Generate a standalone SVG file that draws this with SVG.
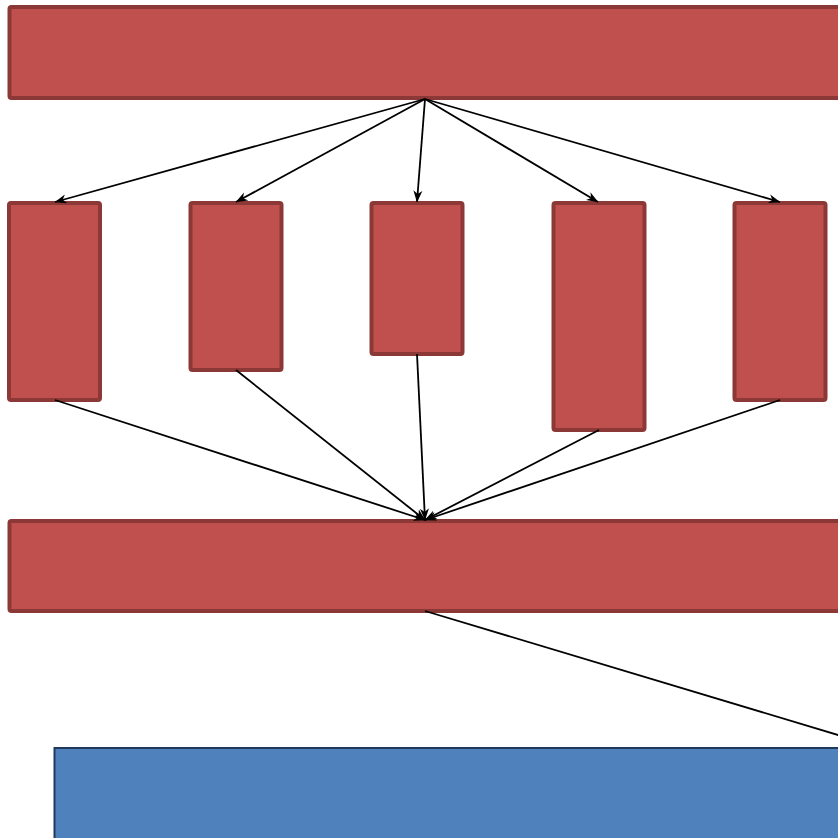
<svg xmlns="http://www.w3.org/2000/svg" width="838" height="838" viewBox="0 0 838 838">
<defs>
<style>
.r{fill:#c0504d;stroke:#8c3836;stroke-width:4;}
.b{fill:#4f81bd;stroke:#1f3a5a;stroke-width:2;}
.c{stroke:#000;stroke-width:1.8;fill:none;}
</style>
<marker id="ah" viewBox="0 0 12 10" refX="11.5" refY="5" markerWidth="12" markerHeight="10" markerUnits="userSpaceOnUse" orient="auto">
<path d="M0,0.5 L12,5 L0,9.5 L3.5,5 z" fill="#000"/>
</marker>
</defs>
<rect width="838" height="838" fill="#fff"/>
<g id="top"><rect class="r" x="9.5" y="7" width="840" height="91" rx="2"/></g>
<g id="n1"><rect class="r" x="9" y="203" width="91" height="197" rx="2"/></g>
<g id="n2"><rect class="r" x="190.5" y="203" width="91" height="167" rx="2"/></g>
<g id="n3"><rect class="r" x="371.5" y="203" width="91" height="151" rx="2"/></g>
<g id="n4"><rect class="r" x="553.5" y="203" width="91" height="227" rx="2"/></g>
<g id="n5"><rect class="r" x="734.5" y="203" width="91" height="197" rx="2"/></g>
<g id="mid"><rect class="r" x="9.5" y="521" width="840" height="90" rx="2"/></g>
<g id="bottom"><rect class="b" x="54.5" y="748" width="820" height="120"/></g>
<g id="connectors">
<line class="c" x1="425" y1="99" x2="55" y2="202" marker-end="url(#ah)"/>
<line class="c" x1="425" y1="99" x2="236" y2="202" marker-end="url(#ah)"/>
<line class="c" x1="425" y1="99" x2="417" y2="202" marker-end="url(#ah)"/>
<line class="c" x1="425" y1="99" x2="598" y2="202" marker-end="url(#ah)"/>
<line class="c" x1="425" y1="99" x2="780" y2="202" marker-end="url(#ah)"/>
<line class="c" x1="55" y1="400" x2="425" y2="520" marker-end="url(#ah)"/>
<line class="c" x1="236" y1="370" x2="425" y2="520" marker-end="url(#ah)"/>
<line class="c" x1="417" y1="354" x2="425" y2="520" marker-end="url(#ah)"/>
<line class="c" x1="599" y1="430" x2="425" y2="520" marker-end="url(#ah)"/>
<line class="c" x1="780" y1="400" x2="425" y2="520" marker-end="url(#ah)"/>
<line class="c" x1="425" y1="611" x2="878" y2="747"/>
</g>
</svg>
